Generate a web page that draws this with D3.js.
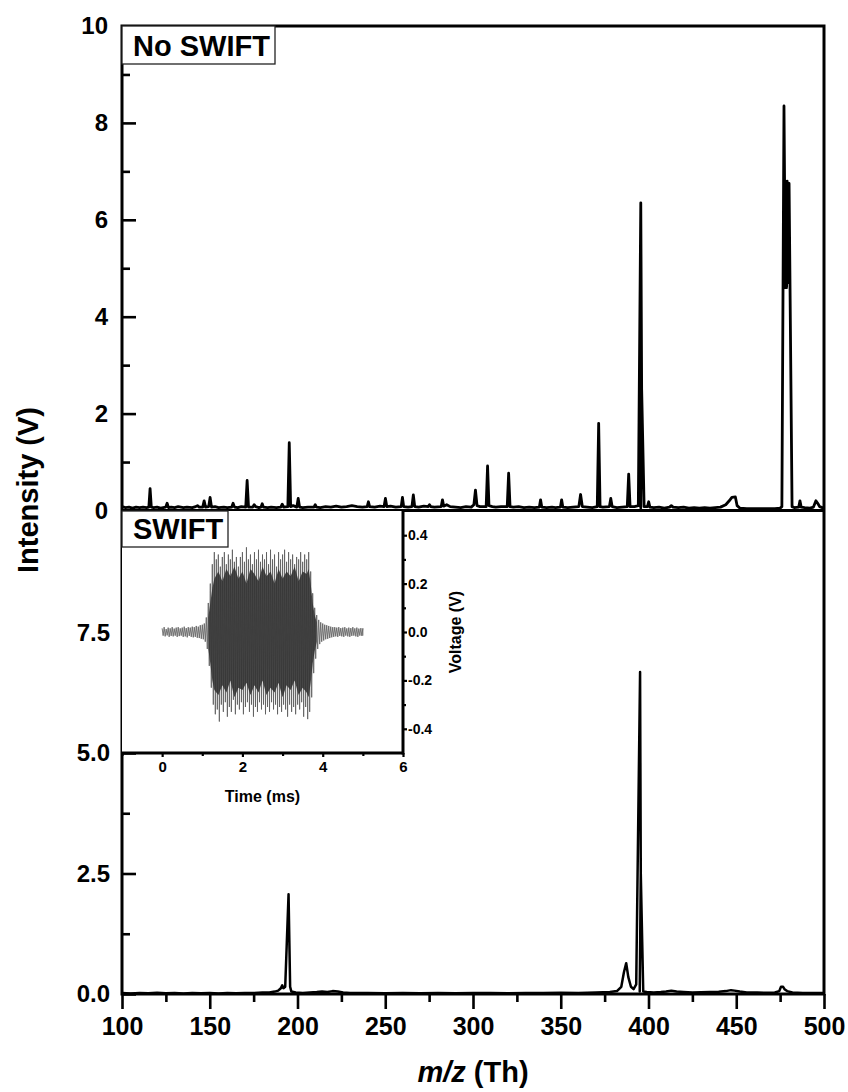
<!DOCTYPE html>
<html><head><meta charset="utf-8">
<script src="https://cdn.jsdelivr.net/npm/d3@7"></script>
<style>
html,body{margin:0;padding:0;background:#fff;}
svg text{font-family:"Liberation Sans",Arial,sans-serif;font-weight:bold;fill:#000;}
</style></head>
<body>
<svg id="c" width="848" height="1092"></svg>
<script>
// ---------------- DATA ----------------
const noSwift = [[100,0.08],[102,0.06],[104,0.07],[106,0.05],[108,0.07],[110,0.06],[112,0.07],[114,0.06],[115.3,0.07],[116,0.45],[116.7,0.07],[118,0.06],[120,0.07],[122,0.05],[124.9,0.07],[125.7,0.15],[126.5,0.06],[128,0.07],[130,0.06],[132,0.08],[135,0.06],[137,0.07],[140,0.06],[142,0.08],[143,0.1],[144,0.07],[146,0.07],[146.8,0.2],[147.6,0.07],[149.4,0.08],[150.2,0.27],[151,0.07],[153,0.08],[155,0.06],[158,0.07],[160,0.06],[162.5,0.07],[163.3,0.15],[164.1,0.07],[166,0.06],[168,0.08],[170.5,0.07],[171.3,0.62],[172.1,0.07],[174.5,0.07],[175.3,0.12],[176.1,0.08],[178,0.06],[179.2,0.07],[179.9,0.14],[180.6,0.07],[183,0.06],[185,0.07],[188,0.06],[190.5,0.07],[191.3,0.13],[192.1,0.07],[194.5,0.08],[195.3,1.4],[196.1,0.08],[197.5,0.1],[199.6,0.07],[200.4,0.25],[201.2,0.07],[203,0.06],[206,0.07],[209.4,0.07],[210.1,0.12],[210.8,0.07],[213,0.06],[216,0.08],[219,0.07],[222,0.09],[225,0.07],[228,0.08],[231,0.1],[234,0.08],[237,0.07],[239.7,0.08],[240.4,0.18],[241.1,0.08],[244,0.07],[247,0.09],[249.3,0.08],[250.1,0.25],[250.9,0.08],[253,0.09],[256,0.07],[259.1,0.08],[259.8,0.27],[260.5,0.08],[263,0.07],[265.2,0.08],[266,0.32],[266.8,0.08],[269,0.07],[272,0.09],[274.5,0.08],[275.2,0.12],[275.9,0.08],[278,0.07],[281.9,0.08],[282.6,0.22],[283.3,0.09],[285,0.12],[287,0.08],[290,0.07],[293,0.06],[296,0.08],[299,0.07],[300.5,0.12],[301.4,0.42],[302.3,0.1],[304,0.08],[307.5,0.08],[308.3,0.92],[309.1,0.1],[311,0.08],[313,0.07],[316,0.08],[319.5,0.08],[320.3,0.77],[321.1,0.08],[323,0.07],[326,0.08],[329,0.06],[332,0.07],[335,0.06],[337.8,0.07],[338.5,0.22],[339.2,0.07],[342,0.06],[345,0.07],[347,0.06],[349.8,0.07],[350.5,0.22],[351.2,0.07],[354,0.06],[357,0.07],[360.3,0.08],[361.3,0.33],[362.3,0.08],[365,0.07],[368,0.06],[370.8,0.08],[371.6,1.8],[372.4,0.08],[374,0.07],[377.7,0.08],[378.5,0.25],[379.3,0.08],[382,0.06],[385,0.07],[387.9,0.08],[388.7,0.75],[389.5,0.08],[392,0.08],[394.2,0.1],[395.6,6.35],[396.1,2.5],[395.6,0.05],[396.1,2.5],[397.5,0.08],[399.4,0.08],[400.1,0.18],[400.8,0.07],[403,0.06],[406,0.07],[409,0.05],[412,0.07],[413,0.1],[414,0.07],[417,0.06],[420,0.07],[423,0.05],[426,0.06],[429,0.05],[432,0.06],[435,0.05],[438,0.06],[441,0.07],[444,0.12],[446,0.2],[447.5,0.27],[449.5,0.28],[450.5,0.1],[452,0.05],[456,0.04],[460,0.04],[464,0.04],[468,0.04],[472,0.04],[475,0.05],[476,0.08],[477.2,8.35],[478,4.6],[478.4,6.7],[478.7,4.6],[479.0,6.8],[479.3,4.7],[479.7,6.75],[480.1,6.75],[481.8,0.08],[483,0.06],[485.6,0.07],[486.3,0.2],[487,0.07],[489,0.06],[492,0.05],[494,0.07],[495.4,0.2],[496.4,0.15],[497.5,0.08],[499,0.06],[500,0.06]];

const withSwift = [[100,0.02],[105,0.01],[110,0.02],[115,0.015],[120,0.025],[125,0.015],[130,0.02],[135,0.01],[140,0.02],[145,0.015],[150,0.02],[155,0.01],[160,0.02],[165,0.015],[170,0.02],[175,0.02],[180,0.03],[184,0.03],[187,0.05],[189,0.07],[190.5,0.12],[191.3,0.18],[192,0.12],[193,0.15],[194.9,2.07],[195.8,0.15],[196.5,0.05],[199,0.03],[203,0.02],[207,0.03],[211,0.04],[214,0.05],[217,0.04],[220,0.06],[223,0.05],[226,0.03],[230,0.02],[240,0.02],[250,0.015],[260,0.02],[270,0.015],[280,0.02],[290,0.015],[300,0.02],[310,0.02],[320,0.015],[330,0.02],[340,0.02],[350,0.025],[360,0.02],[370,0.03],[378,0.04],[382,0.06],[384.5,0.15],[386,0.45],[387.3,0.64],[388.5,0.35],[390,0.15],[391.5,0.1],[393,0.2],[395.2,6.68],[395.6,2.5],[395.0,0.05],[395.6,2.5],[397,0.05],[399,0.04],[403,0.03],[407,0.04],[410,0.05],[413,0.07],[416,0.05],[420,0.04],[425,0.03],[430,0.035],[435,0.04],[440,0.045],[444,0.06],[447,0.08],[449,0.07],[452,0.05],[456,0.03],[462,0.03],[468,0.025],[472,0.03],[474.5,0.06],[475.5,0.15],[476.7,0.15],[477.5,0.1],[479,0.06],[482,0.03],[488,0.02],[494,0.02],[500,0.02]];

// SWIFT waveform (inset): sample times (ms), upper and lower excursions (V)
const waveT = [0,0.05,0.1,0.15,0.2,0.25,0.3,0.35,0.4,0.45,0.5,0.55,0.6,0.65,0.7,0.75,0.8,0.85,0.9,0.95,1.0,1.05,1.1,1.15,1.2,1.25,1.3,1.35,1.4,1.45,1.5,1.55,1.6,1.65,1.7,1.75,1.8,1.85,1.9,1.95,2.0,2.05,2.1,2.15,2.2,2.25,2.3,2.35,2.4,2.45,2.5,2.55,2.6,2.65,2.7,2.75,2.8,2.85,2.9,2.95,3.0,3.05,3.1,3.15,3.2,3.25,3.3,3.35,3.4,3.45,3.5,3.55,3.6,3.65,3.7,3.75,3.8,3.85,3.9,3.95,4.0,4.05,4.1,4.15,4.2,4.25,4.3,4.35,4.4,4.45,4.5,4.55,4.6,4.65,4.7,4.75,4.8,4.85,4.9,4.95,5.0];
const waveHi = [0.015,0.02,0.012,0.018,0.015,0.02,0.014,0.018,0.02,0.015,0.018,0.022,0.016,0.02,0.018,0.022,0.02,0.025,0.022,0.028,0.03,0.035,0.06,0.12,0.2,0.28,0.33,0.3,0.32,0.27,0.31,0.33,0.28,0.32,0.3,0.34,0.29,0.31,0.27,0.31,0.33,0.29,0.35,0.3,0.32,0.28,0.33,0.3,0.34,0.29,0.32,0.3,0.33,0.28,0.34,0.3,0.32,0.27,0.33,0.3,0.32,0.34,0.29,0.33,0.3,0.32,0.28,0.31,0.3,0.33,0.29,0.32,0.3,0.33,0.25,0.16,0.1,0.07,0.05,0.04,0.035,0.03,0.028,0.025,0.022,0.02,0.02,0.018,0.02,0.016,0.018,0.02,0.015,0.018,0.016,0.02,0.015,0.018,0.014,0.016,0.015];
const waveLo = [-0.015,-0.018,-0.014,-0.02,-0.016,-0.018,-0.015,-0.02,-0.017,-0.015,-0.02,-0.018,-0.022,-0.016,-0.02,-0.022,-0.02,-0.024,-0.025,-0.028,-0.03,-0.04,-0.07,-0.14,-0.23,-0.3,-0.34,-0.32,-0.37,-0.3,-0.33,-0.29,-0.35,-0.31,-0.33,-0.28,-0.34,-0.3,-0.32,-0.29,-0.34,-0.31,-0.29,-0.33,-0.3,-0.35,-0.31,-0.33,-0.29,-0.32,-0.3,-0.34,-0.31,-0.33,-0.29,-0.32,-0.3,-0.34,-0.31,-0.33,-0.3,-0.32,-0.35,-0.3,-0.33,-0.31,-0.34,-0.3,-0.32,-0.29,-0.35,-0.31,-0.36,-0.33,-0.27,-0.17,-0.11,-0.07,-0.05,-0.04,-0.035,-0.03,-0.028,-0.025,-0.022,-0.02,-0.018,-0.02,-0.016,-0.018,-0.02,-0.015,-0.018,-0.02,-0.016,-0.015,-0.018,-0.02,-0.015,-0.016,-0.015];
// dark core of the burst
const coreT  = [1.15,1.2,1.25,1.3,1.4,1.5,1.6,1.7,1.8,1.9,2.0,2.1,2.2,2.3,2.4,2.5,2.6,2.7,2.8,2.9,3.0,3.1,3.2,3.3,3.4,3.5,3.6,3.65,3.7,3.75,3.8,3.85];
const coreHi = [0.06,0.12,0.18,0.22,0.25,0.21,0.26,0.23,0.27,0.22,0.25,0.2,0.26,0.24,0.21,0.27,0.23,0.25,0.2,0.26,0.22,0.25,0.23,0.27,0.21,0.25,0.24,0.26,0.2,0.12,0.07,0.04];
const coreLo = [-0.07,-0.13,-0.2,-0.24,-0.26,-0.22,-0.25,-0.2,-0.27,-0.23,-0.24,-0.21,-0.26,-0.22,-0.25,-0.2,-0.26,-0.23,-0.25,-0.21,-0.27,-0.22,-0.24,-0.2,-0.26,-0.23,-0.25,-0.27,-0.21,-0.13,-0.08,-0.04];

// tick values / labels
const xTicks = [100,150,200,250,300,350,400,450,500];
const xMinor = [125,175,225,275,325,375,425,475];
const yTopTicks = [0,2,4,6,8,10];
const yTopMinor = [1,3,5,7,9];
const yBotTicks = [0,2.5,5,7.5];
const yBotMinor = [1.25,3.75,6.25,8.75];
const tTicks = [0,2,4,6];
const tMinor = [-1,1,3,5];
const vTicks = [-0.4,-0.2,0,0.2,0.4];
const vMinor = [-0.3,-0.1,0.1,0.3];
const labelTop = "No SWIFT", labelBot = "SWIFT";
const xTitle = ["m/z", " (Th)"], yTitle = "Intensity (V)";
const tTitle = "Time (ms)", vTitle = "Voltage (V)";

// ---------------- DRAW ----------------
const svg = d3.select("#c");
const L = 122, R = 824, T = 26, MID = 510.5, B = 994;
const x = d3.scaleLinear([100,500],[L,R]);
const yTop = d3.scaleLinear([0,10],[MID,T]);
const yBot = d3.scaleLinear([0,10],[B,512]);

const defs = svg.append("defs");
defs.append("clipPath").attr("id","clipTop")
  .append("rect").attr("x",L).attr("y",T).attr("width",R-L).attr("height",MID-T);
defs.append("clipPath").attr("id","clipBot")
  .append("rect").attr("x",L).attr("y",MID).attr("width",R-L).attr("height",B-MID+2);

svg.append("path").datum(noSwift)
  .attr("clip-path","url(#clipTop)")
  .attr("d", d3.line().x(d=>x(d[0])).y(d=>yTop(d[1])))
  .attr("fill","none").attr("stroke","#000").attr("stroke-width",2.8).attr("stroke-linejoin","round");
svg.append("path").datum(withSwift)
  .attr("clip-path","url(#clipBot)")
  .attr("d", d3.line().x(d=>x(d[0])).y(d=>yBot(d[1])))
  .attr("fill","none").attr("stroke","#000").attr("stroke-width",2.5).attr("stroke-linejoin","round");

// frame
svg.append("rect").attr("x",L).attr("y",T).attr("width",R-L).attr("height",B-T)
  .attr("fill","none").attr("stroke","#000").attr("stroke-width",3);
svg.append("line").attr("x1",L).attr("x2",R).attr("y1",MID).attr("y2",MID)
  .attr("stroke","#000").attr("stroke-width",3);

function styleAxis(g, fs, w){
  g.select(".domain").remove();
  g.selectAll(".tick line").attr("stroke","#000").attr("stroke-width",w||2.6);
  g.selectAll("text").attr("font-size",fs).attr("font-family",null).attr("fill","#000");
}
// left axis, top panel
let g = svg.append("g").attr("transform",`translate(${L},0)`)
  .call(d3.axisLeft(yTop).tickValues(yTopTicks).tickSize(-14).tickPadding(14).tickFormat(d3.format("d")));
styleAxis(g,24);
g = svg.append("g").attr("transform",`translate(${L},0)`)
  .call(d3.axisLeft(yTop).tickValues(yTopMinor).tickSize(-8).tickFormat(""));
styleAxis(g,24);
// left axis, bottom panel
g = svg.append("g").attr("transform",`translate(${L},0)`)
  .call(d3.axisLeft(yBot).tickValues(yBotTicks).tickSize(-14).tickPadding(12).tickFormat(d3.format(".1f")));
styleAxis(g,24);
g = svg.append("g").attr("transform",`translate(${L},0)`)
  .call(d3.axisLeft(yBot).tickValues(yBotMinor).tickSize(-8).tickFormat(""));
styleAxis(g,24);
// bottom axis
g = svg.append("g").attr("transform",`translate(0,${B})`)
  .call(d3.axisBottom(x).tickValues(xTicks).tickSize(15).tickPadding(8).tickFormat(d3.format("d")));
styleAxis(g,25);
g = svg.append("g").attr("transform",`translate(0,${B})`)
  .call(d3.axisBottom(x).tickValues(xMinor).tickSize(8).tickFormat(""));
styleAxis(g,25);

// titles
const xt = svg.append("text").attr("x",(L+R)/2).attr("y",1082).attr("text-anchor","middle").attr("font-size",29);
xt.append("tspan").attr("font-style","italic").text(xTitle[0]);
xt.append("tspan").text(xTitle[1]);
svg.append("text").attr("transform","translate(38,490) rotate(-90)").attr("text-anchor","middle")
  .attr("font-size",29).text(yTitle);

function panelLabel(txt, y0, w, h){
  svg.append("rect").attr("x",L).attr("y",y0).attr("width",w).attr("height",h)
    .attr("fill","#fff").attr("stroke","#222").attr("stroke-width",1.3);
  svg.append("text").attr("x",L+11).attr("y",y0+h-8).attr("font-size",29).text(txt);
}

// ---------------- INSET ----------------
const IR = 403, IB = 753, IT = 511;
const xi = d3.scaleLinear([-1,6],[L,IR]);
const yi = d3.scaleLinear([-0.5,0.5],[IB,IT]);
svg.append("rect").attr("x",L).attr("y",IT).attr("width",IR-L).attr("height",IB-IT).attr("fill","#fff");

// zigzag waveform through the read upper/lower excursions
const zz = [];
waveT.forEach((t,i)=>{
  zz.push([t, waveHi[i]]);
  const tn = i < waveT.length-1 ? waveT[i+1] : t;
  zz.push([(t+tn)/2, waveLo[i]]);
});
const zzLine = d3.line().x(d=>xi(d[0])).y(d=>yi(d[1]));
svg.append("path").datum(zz).attr("d", zzLine)
  .attr("fill","none").attr("stroke","#8e8e8e").attr("stroke-width",0.9);
svg.append("path").datum(coreT.map((t,i)=>[t,coreHi[i],coreLo[i]]))
  .attr("d", d3.area().x(d=>xi(d[0])).y0(d=>yi(d[2])).y1(d=>yi(d[1])))
  .attr("fill","#4a4a4a");
svg.append("path").datum(zz).attr("d", zzLine)
  .attr("fill","none").attr("stroke","#111").attr("stroke-width",0.6).attr("opacity",0.35);

// inset axes
svg.append("line").attr("x1",L).attr("x2",IR).attr("y1",IB).attr("y2",IB).attr("stroke","#000").attr("stroke-width",3);
svg.append("line").attr("x1",IR).attr("x2",IR).attr("y1",IT).attr("y2",IB+1.5).attr("stroke","#000").attr("stroke-width",3);
g = svg.append("g").attr("transform",`translate(0,${IB})`)
  .call(d3.axisBottom(xi).tickValues(tTicks).tickSize(4).tickPadding(4).tickFormat(d3.format("d")));
styleAxis(g,15,2.2);
g = svg.append("g").attr("transform",`translate(0,${IB})`)
  .call(d3.axisBottom(xi).tickValues(tMinor).tickSize(3).tickFormat(""));
styleAxis(g,15,2.2);
g = svg.append("g").attr("transform",`translate(${IR},0)`)
  .call(d3.axisRight(yi).tickValues(vTicks).tickSize(4).tickPadding(1).tickFormat(v=>d3.format(".1f")(v).replace("\u2212","-")));
styleAxis(g,14,2.2);
g = svg.append("g").attr("transform",`translate(${IR},0)`)
  .call(d3.axisRight(yi).tickValues(vMinor).tickSize(3).tickFormat(""));
styleAxis(g,14,2.2);

svg.append("text").attr("x",xi(2.5)).attr("y",802).attr("text-anchor","middle").attr("font-size",16).text(tTitle);
svg.append("text").attr("transform",`translate(461,${yi(0)}) rotate(-90)`).attr("text-anchor","middle")
  .attr("font-size",16).text(vTitle);

panelLabel(labelTop, T, 153, 38);
panelLabel(labelBot, IT, 106, 36);
</script>
</body></html>
